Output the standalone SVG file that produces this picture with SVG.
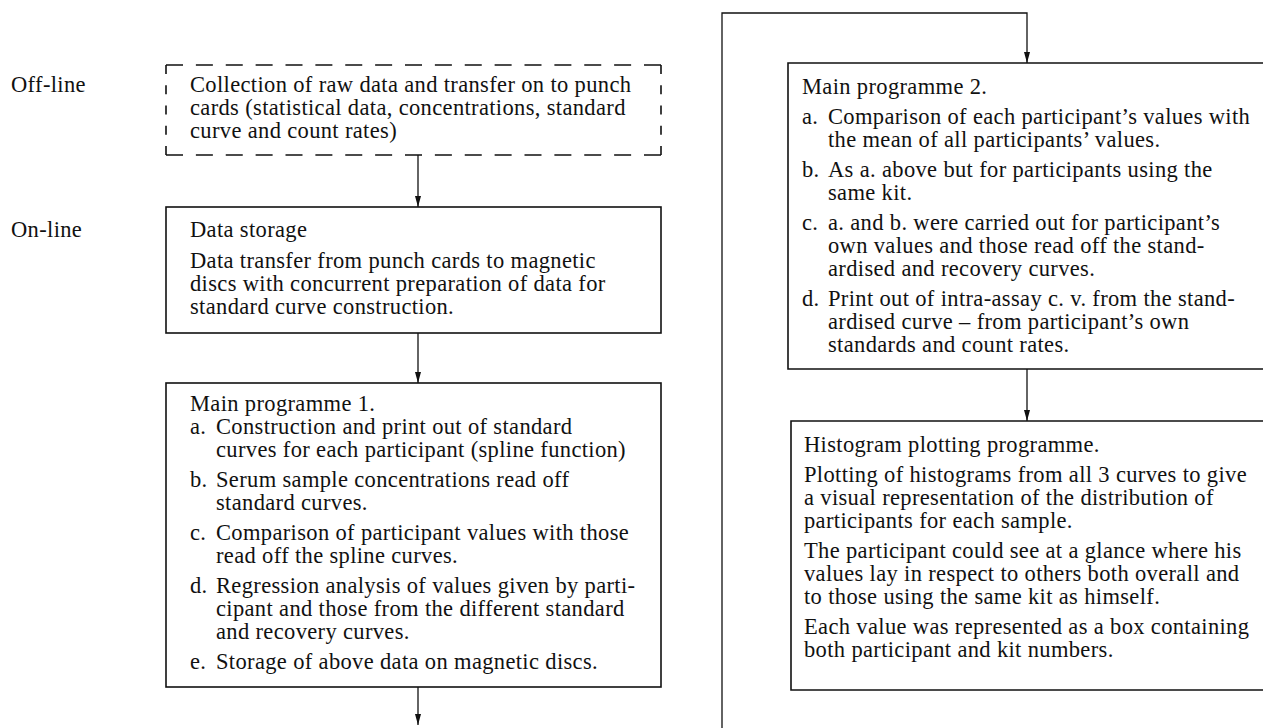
<svg xmlns="http://www.w3.org/2000/svg" width="1263" height="728" viewBox="0 0 1263 728">
<defs>
<style>
text{font-family:"Liberation Serif","Times New Roman",serif;font-size:22.5px;letter-spacing:0.35px;fill:#111}
.box{fill:none;stroke:#111;stroke-width:1.6}
.dh{fill:none;stroke:#111;stroke-width:1.6;stroke-dasharray:17 12.875}
.dv{fill:none;stroke:#111;stroke-width:1.6;stroke-dasharray:9 11.25}
.conn{fill:none;stroke:#111;stroke-width:1.3}
</style>
<marker id="ah" markerUnits="userSpaceOnUse" markerWidth="8" markerHeight="12" refX="3.5" refY="11" orient="auto-start-reverse" viewBox="0 0 7 12">
<path d="M0,0 L7,0 L3.5,11 Z" fill="#111" transform="rotate(-90 3.5 6)"/>
</marker>
<marker id="ad" markerUnits="userSpaceOnUse" markerWidth="8" markerHeight="12" refX="3.5" refY="11" viewBox="0 0 7 12" orient="0">
<path d="M0.5,0 L6.5,0 L3.5,11 Z" fill="#111"/>
</marker>
</defs>

<g id="labels">
<text x="11" y="92">Off-line</text>
<text x="11" y="237">On-line</text>
</g>

<g id="n-collection">
<path class="dh" d="M166,65 H661"/>
<path class="dh" d="M166,155 H661"/>
<path class="dv" d="M166,65 V155"/>
<path class="dv" d="M661,65 V155"/>
<text x="190" y="92">Collection of raw data and transfer on to punch</text>
<text x="190" y="115">cards (statistical data, concentrations, standard</text>
<text x="190" y="138">curve and count rates)</text>
</g>

<g id="n-storage">
<rect class="box" x="166" y="207" width="495" height="126"/>
<text x="190" y="237">Data storage</text>
<text x="190" y="268">Data transfer from punch cards to magnetic</text>
<text x="190" y="291">discs with concurrent preparation of data for</text>
<text x="190" y="314">standard curve construction.</text>
</g>

<g id="n-main1">
<rect class="box" x="166" y="383" width="495" height="304"/>
<text x="190" y="411">Main programme 1.</text>
<text x="190" y="434">a.</text><text x="216" y="434">Construction and print out of standard</text>
<text x="216" y="457">curves for each participant (spline function)</text>
<text x="190" y="487">b.</text><text x="216" y="487">Serum sample concentrations read off</text>
<text x="216" y="510">standard curves.</text>
<text x="190" y="540">c.</text><text x="216" y="540">Comparison of participant values with those</text>
<text x="216" y="563">read off the spline curves.</text>
<text x="190" y="593">d.</text><text x="216" y="593">Regression analysis of values given by parti-</text>
<text x="216" y="616">cipant and those from the different standard</text>
<text x="216" y="639">and recovery curves.</text>
<text x="190" y="669">e.</text><text x="216" y="669">Storage of above data on magnetic discs.</text>
</g>

<g id="n-main2">
<path class="box" d="M1264,63 H788 V369 H1264"/>
<text x="802" y="94">Main programme 2.</text>
<text x="802" y="124">a.</text><text x="828" y="124">Comparison of each participant’s values with</text>
<text x="828" y="147">the mean of all participants’ values.</text>
<text x="802" y="177">b.</text><text x="828" y="177">As a. above but for participants using the</text>
<text x="828" y="200">same kit.</text>
<text x="802" y="230">c.</text><text x="828" y="230">a. and b. were carried out for participant’s</text>
<text x="828" y="253">own values and those read off the stand-</text>
<text x="828" y="276">ardised and recovery curves.</text>
<text x="802" y="306">d.</text><text x="828" y="306">Print out of intra-assay c. v. from the stand-</text>
<text x="828" y="329">ardised curve – from participant’s own</text>
<text x="828" y="352">standards and count rates.</text>
</g>

<g id="n-histogram">
<path class="box" d="M1264,421 H791 V690 H1264"/>
<text x="804" y="452">Histogram plotting programme.</text>
<text x="804" y="482">Plotting of histograms from all 3 curves to give</text>
<text x="804" y="505">a visual representation of the distribution of</text>
<text x="804" y="528">participants for each sample.</text>
<text x="804" y="558">The participant could see at a glance where his</text>
<text x="804" y="581">values lay in respect to others both overall and</text>
<text x="804" y="604">to those using the same kit as himself.</text>
<text x="804" y="634">Each value was represented as a box containing</text>
<text x="804" y="657">both participant and kit numbers.</text>
</g>

<g id="connectors">
<path class="conn" d="M418,155 V207" marker-end="url(#ad)"/>
<path class="conn" d="M418,333 V383" marker-end="url(#ad)"/>
<path class="conn" d="M418,687 V725" marker-end="url(#ad)"/>
<path class="conn" d="M1027,369 V421" marker-end="url(#ad)"/>
<path class="conn" d="M722,728 V13 H1027 V63" marker-end="url(#ad)"/>
</g>
</svg>
